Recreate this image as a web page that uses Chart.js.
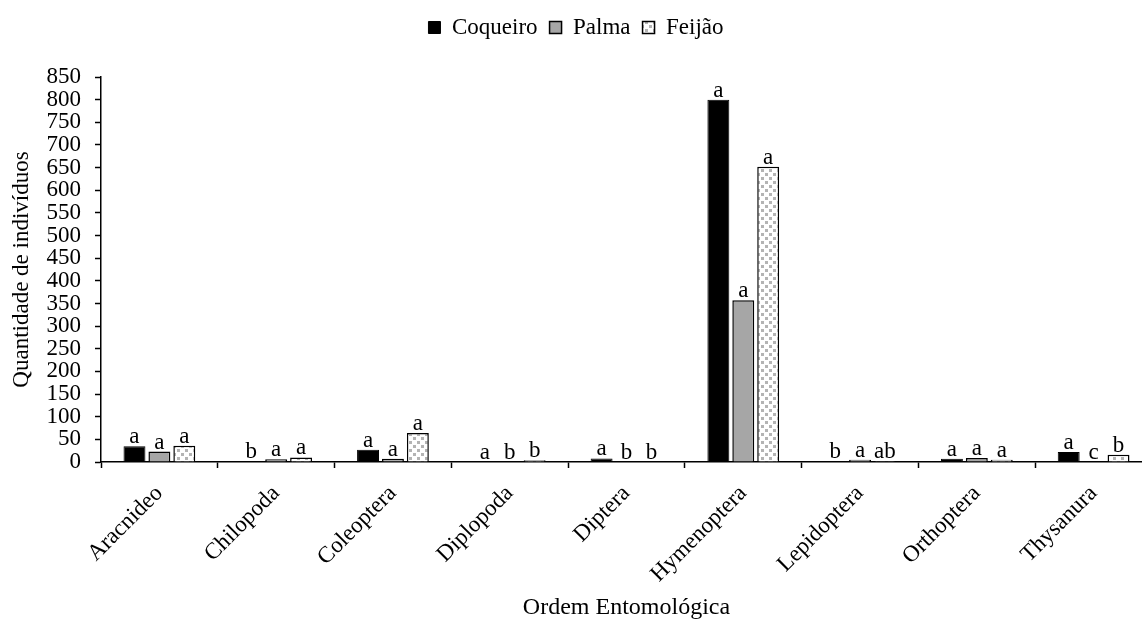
<!DOCTYPE html>
<html lang="pt">
<head>
<meta charset="utf-8">
<title>Quantidade de indivíduos por ordem entomológica</title>
<script src="https://cdn.jsdelivr.net/npm/chart.js@4.4.0/dist/chart.umd.min.js"></script>
<style>
    html, body { margin: 0; padding: 0; background: #fff; overflow: hidden; }
    #wrap { position: absolute; left: 0; top: 0; width: 1164px; height: 624px; }
</style>
</head>
<body>
<div id="wrap"><canvas id="grafico"></canvas></div>
<script>
// Dados
const categorias = ['Aracnideo', 'Chilopoda', 'Coleoptera', 'Diplopoda', 'Diptera',
                    'Hymenoptera', 'Lepidoptera', 'Orthoptera', 'Thysanura'];
const coqueiro = [35, 2, 27, 1, 8, 800, 2, 7, 22];
const palma    = [23, 6, 7, 0, 1, 357, 5, 9, 1];
const feijao   = [36, 10, 64, 4, 1, 652, 2, 5, 16];

// Letras (teste de médias) acima de cada barra
const letrasCoqueiro = ['a', 'b', 'a', 'a', 'a', 'a', 'b', 'a', 'a'];
const letrasPalma    = ['a', 'a', 'a', 'b', 'b', 'a', 'a', 'a', 'c'];
const letrasFeijao   = ['a', 'a', 'a', 'b', 'b', 'a', 'ab', 'a', 'b'];

const yMax = 850;
const yPasso = 50;

const FONTE = '"Liberation Serif", "Times New Roman", serif';
const TAM = 23;

// Padrão pontilhado para o Feijão
function criarPadrao() {
    const c = document.createElement('canvas');
    c.width = 8;
    c.height = 8;
    const g = c.getContext('2d');
    g.fillStyle = '#ffffff';
    g.fillRect(0, 0, 8, 8);
    g.fillStyle = '#b4b4b4';
    g.fillRect(1, 1, 3, 3);
    g.fillRect(5, 5, 3, 3);
    return g.createPattern(c, 'repeat');
}

// Plugin simples para escrever as letras
const letrasPlugin = {
    id: 'letras',
    afterDatasetsDraw(chart) {
        const ctx = chart.ctx;
        ctx.save();
        ctx.font = TAM + 'px ' + FONTE;
        ctx.fillStyle = '#000';
        ctx.textAlign = 'center';
        ctx.textBaseline = 'alphabetic';
        chart.data.datasets.forEach((ds, i) => {
            const meta = chart.getDatasetMeta(i);
            meta.data.forEach((bar, j) => {
                ctx.fillText(ds.letras[j], bar.x, bar.y - 3);
            });
        });
        ctx.restore();
    }
};

// Espaço extra abaixo da legenda
const margemLegenda = {
    id: 'margemLegenda',
    beforeInit(chart) {
        const fitOriginal = chart.legend.fit;
        chart.legend.fit = function fit() {
            fitOriginal.bind(chart.legend)();
            this.height += 28;
        };
    }
};

const ctx = document.getElementById('grafico').getContext('2d');

new Chart(ctx, {
    type: 'bar',
    data: {
        labels: categorias,
        datasets: [
            {
                label: 'Coqueiro',
                data: coqueiro,
                letras: letrasCoqueiro,
                backgroundColor: '#000000',
                borderColor: '#000000',
                borderWidth: 1
            },
            {
                label: 'Palma',
                data: palma,
                letras: letrasPalma,
                backgroundColor: '#a6a6a6',
                borderColor: '#000000',
                borderWidth: 1.5
            },
            {
                label: 'Feijão',
                data: feijao,
                letras: letrasFeijao,
                backgroundColor: criarPadrao(),
                borderColor: '#000000',
                borderWidth: 1.5
            }
        ]
    },
    options: {
        responsive: true,
        maintainAspectRatio: false,
        animation: false,
        categoryPercentage: 0.64,
        barPercentage: 0.88,
        layout: {
            padding: { top: 4, right: 12, bottom: 0, left: 0 }
        },
        plugins: {
            tooltip: { enabled: false },
            legend: {
                display: true,
                position: 'top',
                labels: {
                    color: '#000',
                    font: { family: FONTE, size: TAM },
                    boxWidth: 12,
                    boxHeight: 12,
                    padding: 12
                }
            }
        },
        scales: {
            x: {
                grid: {
                    display: true,
                    drawOnChartArea: false,
                    color: '#000',
                    tickLength: 6,
                    tickWidth: 1.5
                },
                border: { color: '#000', width: 1.5 },
                ticks: {
                    color: '#000',
                    font: { family: FONTE, size: TAM },
                    minRotation: 45,
                    maxRotation: 45,
                    autoSkip: false,
                    padding: 12
                },
                title: {
                    display: true,
                    text: 'Ordem Entomológica',
                    color: '#000',
                    font: { family: FONTE, size: 24 },
                    padding: { top: 0, bottom: 2 }
                },
                afterFit(scale) {
                    scale.height = 162;
                }
            },
            y: {
                min: 0,
                max: yMax,
                grid: {
                    display: true,
                    drawOnChartArea: false,
                    color: '#000',
                    tickLength: 6,
                    tickWidth: 1.5
                },
                border: { color: '#000', width: 1.5 },
                ticks: {
                    stepSize: yPasso,
                    color: '#000',
                    font: { family: FONTE, size: TAM },
                    padding: 14,
                    autoSkip: false
                },
                title: {
                    display: true,
                    text: 'Quantidade de indivíduos',
                    color: '#000',
                    font: { family: FONTE, size: TAM },
                    padding: { top: 8, bottom: 0 }
                },
                afterFit(scale) {
                    scale.width = 101;
                }
            }
        }
    },
    plugins: [letrasPlugin, margemLegenda]
});
</script>
</body>
</html>
